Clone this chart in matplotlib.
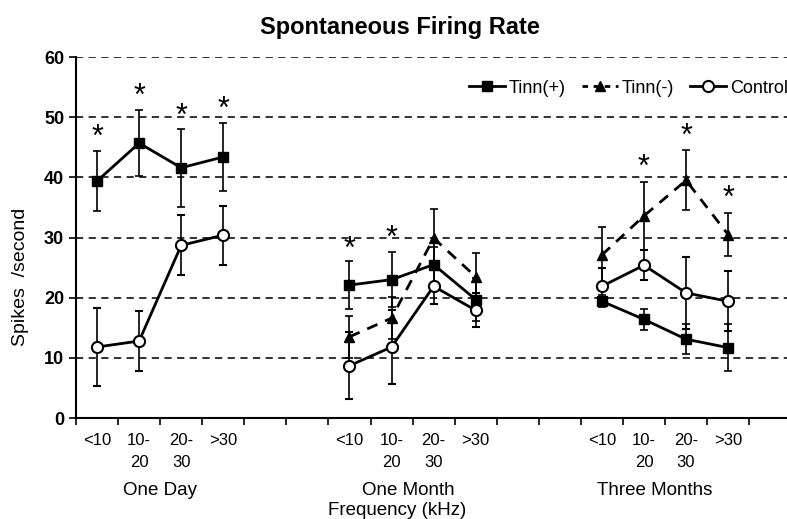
import matplotlib
matplotlib.use("Agg")
import matplotlib.pyplot as plt
from matplotlib.lines import Line2D

plt.rcParams["font.family"] = ["Liberation Sans", "DejaVu Sans"]

# positions of the frequency bins, three time points
x_groups = [[0, 1, 2, 3], [6, 7, 8, 9], [12, 13, 14, 15]]
freq_labels = ["<10", "10-\n20", "20-\n30", ">30"]
group_names = ["One Day", "One Month", "Three Months"]
group_label_x = [1.5, 7.4, 13.25]

# Tinn(+)
tinn_pos_mean = [[39.4, 45.7, 41.6, 43.4], [22.1, 23.0, 25.5, 19.7], [19.4, 16.4, 13.1, 11.7]]
tinn_pos_err = [[5.0, 5.5, 6.5, 5.7], [4.0, 4.6, 3.0, 3.5], [1.0, 1.7, 2.5, 3.9]]

# Tinn(-) (only measured at one and three months)
tinn_neg_mean = [None, [13.5, 16.6, 29.9, 23.5], [27.1, 33.6, 39.5, 30.5]]
tinn_neg_err = [None, [3.5, 3.5, 4.9, 3.9], [4.7, 5.6, 5.0, 3.5]]

# Control
control_mean = [[11.8, 12.8, 28.7, 30.4], [8.7, 11.8, 21.9, 17.9], [21.9, 25.4, 20.8, 19.4]]
control_err = [[6.5, 5.0, 5.0, 4.9], [5.6, 6.2, 3.0, 2.8], [3.0, 2.5, 6.0, 5.0]]

# significance stars
star_x = [0, 1, 2, 3, 6, 7, 13, 14, 15]
star_y = [46.6, 53.4, 50.1, 51.2, 28.0, 29.8, 41.5, 46.8, 36.4]

fig = plt.figure(figsize=(7.87, 5.19), dpi=100)
ax = fig.add_axes([0.0966, 0.1946, 0.9034, 0.6954])

for yv in range(10, 61, 10):
    ax.axhline(yv, color="#222222", lw=1.3, ls=(0, (4, 3)), zorder=1)

err_kw = dict(ecolor="black", elinewidth=1.2, capsize=3, capthick=1.2, zorder=3)

for i, xs in enumerate(x_groups):
    ax.errorbar(xs, tinn_pos_mean[i], yerr=tinn_pos_err[i], color="black", lw=2,
                marker="s", ms=7, mfc="black", mec="black", **err_kw)
    if tinn_neg_mean[i] is not None:
        ax.errorbar(xs, tinn_neg_mean[i], yerr=tinn_neg_err[i], color="black", lw=2,
                    ls=(0, (4, 3)), marker="^", ms=7, mfc="black", mec="black", **err_kw)
    ax.errorbar(xs, control_mean[i], yerr=control_err[i], color="black", lw=2,
                marker="o", ms=8, mfc="white", mec="black", mew=1.5, **err_kw)

for sx, sy in zip(star_x, star_y):
    ax.text(sx, sy, "*", ha="center", va="center", fontsize=22, zorder=4)

ax.set_ylim(0, 60)
ax.set_xlim(-0.5, 16.4)
ax.set_yticks(range(0, 61, 10))
ax.tick_params(axis="y", labelsize=13, length=5, width=1.2, direction="out")
for lab in ax.get_yticklabels():
    lab.set_fontweight("bold")

ax.set_xticks([k - 0.5 for k in range(17)])
ax.set_xticklabels([])
ax.tick_params(axis="x", which="major", length=5, width=1.2, direction="out")

label_pos = [x for xs in x_groups for x in xs]
ax.set_xticks(label_pos, minor=True)
ax.set_xticklabels(freq_labels * 3, minor=True, fontsize=12, linespacing=1.6)
ax.tick_params(axis="x", which="minor", length=0, pad=11)

for gx, name in zip(group_label_x, group_names):
    ax.text(gx, -12.0, name, ha="center", va="center", fontsize=13.5)
ax.text(7.14, -15.3, "Frequency (kHz)", ha="center", va="center", fontsize=13.5)

ax.spines["top"].set_visible(False)
ax.spines["right"].set_visible(False)
ax.spines["left"].set_linewidth(1.5)
ax.spines["bottom"].set_linewidth(1.5)

ax.set_ylabel("Spikes  /second", fontsize=14)
ax.yaxis.set_label_coords(-0.066, 0.39)
fig.text(0.508, 0.947, "Spontaneous Firing Rate", ha="center", va="center",
         fontsize=17, fontweight="bold")

handles = [
    Line2D([], [], color="black", lw=2, marker="s", ms=7),
    Line2D([], [], color="black", lw=2, ls=(0, (2, 2)), marker="^", ms=7),
    Line2D([], [], color="black", lw=2, marker="o", ms=8, mfc="white", mew=1.5),
]
fig.legend(handles, ["Tinn(+)", "Tinn(-)", "Control"], loc="center left",
           bbox_to_anchor=(0.575, 0.83), ncol=3, frameon=False, fontsize=13,
           handlelength=2.0, handletextpad=0.2, columnspacing=0.9)

plt.savefig("out.png", dpi=100)
